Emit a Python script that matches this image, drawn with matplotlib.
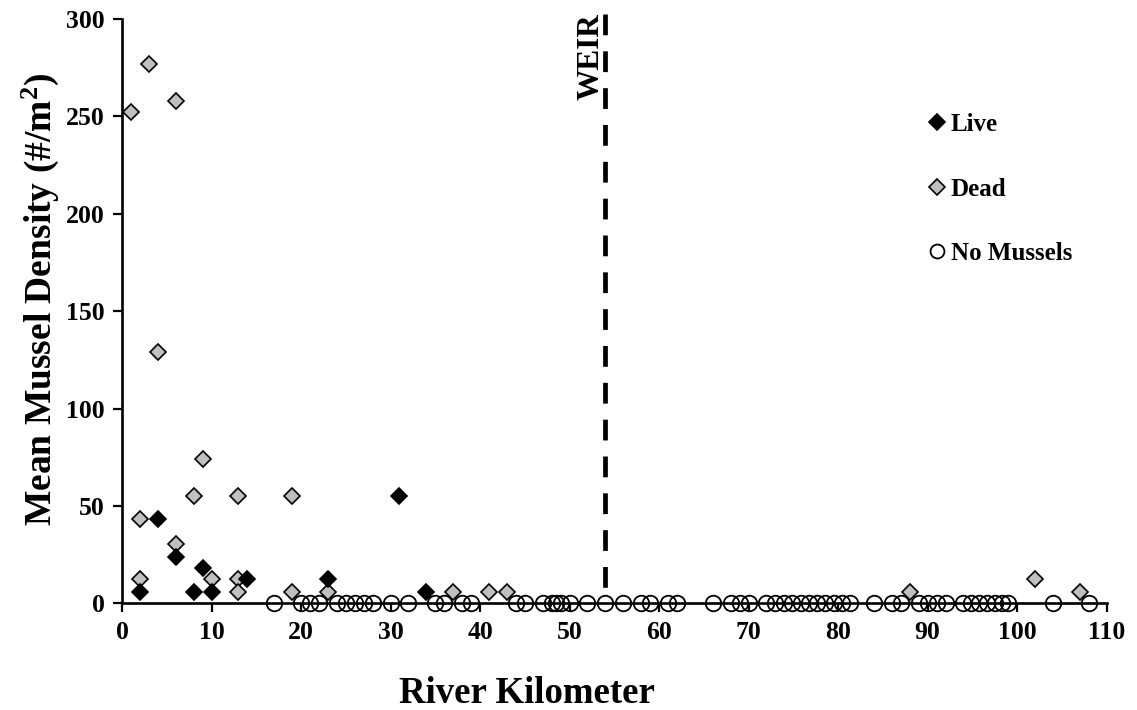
import numpy as np
import matplotlib
matplotlib.use("Agg")
import matplotlib.pyplot as plt
from matplotlib.lines import Line2D

plt.rcParams['font.family'] = ['Liberation Serif', 'DejaVu Serif']
plt.rcParams['font.weight'] = 'bold'
plt.rcParams['mathtext.fontset'] = 'custom'
plt.rcParams['mathtext.rm'] = 'Liberation Serif:bold'
plt.rcParams['mathtext.bf'] = 'Liberation Serif:bold'
plt.rcParams['mathtext.it'] = 'Liberation Serif:bold'

# --- Survey data: river km vs mean density (#/m^2) ---
live_km = [2, 4, 6, 8, 9, 10, 14, 23, 31, 34]
live_density = [6, 43.5, 24, 6, 18, 6, 12.5, 12.5, 55, 6]

dead_km = [1, 2, 2, 3, 4, 6, 6, 8, 9, 10, 13, 13, 13, 19, 19, 23,
           37, 41, 43, 88, 102, 107]
dead_density = [252, 43.5, 12.5, 277, 129, 258, 30.5, 55, 74, 12.5, 55, 12.5,
                6, 55, 6, 6, 6, 6, 6, 6, 12.5, 6]

none_km = [17, 20, 21, 22, 24, 25, 26, 27, 28, 30, 32, 35, 36, 38, 39,
           44, 45, 47, 48, 48.5, 49, 50, 52, 54, 56, 58, 59, 61, 62,
           66, 68, 69, 70, 72, 73, 73.9, 74.8, 75.8, 76.7, 77.6, 78.5,
           79.5, 80.4, 81.3, 84, 86, 87, 89, 90, 91, 92, 94, 94.8, 95.7,
           96.6, 97.5, 98.3, 99, 104, 108]
none_density = [0] * len(none_km)

weir_km = 54
x_ticks = list(range(0, 111, 10))
y_ticks = list(range(0, 301, 50))

GRAY = '#C0C0C0'
DIAMOND_MS = 8.6
CIRCLE_MS = 11.2

fig = plt.figure(figsize=(11.37, 7.1), dpi=100)
ax = fig.add_axes([0.1073, 0.1503, 0.866, 0.823])

ax.plot(none_km, none_density, ls='none', marker='o', ms=CIRCLE_MS, mfc='none',
        mec='black', mew=1.3, clip_on=False, zorder=3)
ax.plot(dead_km, dead_density, ls='none', marker='D', ms=DIAMOND_MS, mfc=GRAY,
        mec='black', mew=1.2, clip_on=False, zorder=4)
ax.plot(live_km, live_density, ls='none', marker='D', ms=DIAMOND_MS, mfc='black',
        mec='black', mew=1.2, clip_on=False, zorder=5)

# weir location
ax.plot([weir_km, weir_km], [302.7, 6.5], color='black', lw=3.4,
        ls=(0, (4.4, 3.4)), solid_capstyle='butt', dash_capstyle='butt',
        clip_on=False, zorder=2)
ax.text(weir_km - 1.6, 303, 'WEIR', rotation=90, ha='center', va='top',
        fontsize=22.5, fontweight='bold')

ax.set_xlim(0, 110)
ax.set_ylim(0, 300)
ax.set_xticks(x_ticks)
ax.set_yticks(y_ticks)
ax.tick_params(axis='both', direction='out', length=6.5, width=1.6,
               labelsize=18.5, pad=6)
for lab in ax.get_xticklabels() + ax.get_yticklabels():
    lab.set_fontweight('bold')

for side in ('top', 'right'):
    ax.spines[side].set_visible(False)
for side in ('left', 'bottom'):
    ax.spines[side].set_linewidth(1.9)

ax.set_xlabel('River Kilometer', fontsize=26.5, fontweight='bold')
ax.set_ylabel(r'Mean Mussel Density (#/m$^{2}$)', fontsize=27,
              fontweight='bold')
ax.xaxis.set_label_coords(0.411, -0.124)
ax.yaxis.set_label_coords(-0.062, 0.52)

handles = [
    Line2D([], [], ls='none', marker='D', ms=DIAMOND_MS, mfc='black', mec='black', mew=1.2),
    Line2D([], [], ls='none', marker='D', ms=DIAMOND_MS, mfc=GRAY, mec='black', mew=1.2),
    Line2D([], [], ls='none', marker='o', ms=10, mfc='none', mec='black', mew=1.3),
]
fig.legend(handles, ['Live', 'Dead', 'No Mussels'], loc='upper left',
           bbox_to_anchor=(929 / 1137, 1 - 113 / 710), frameon=False,
           borderpad=0, borderaxespad=0, handlelength=0.6,
           handletextpad=0.27, labelspacing=1.66,
           prop={'size': 18, 'weight': 'bold'})

fig.savefig('out.png', dpi=100)
